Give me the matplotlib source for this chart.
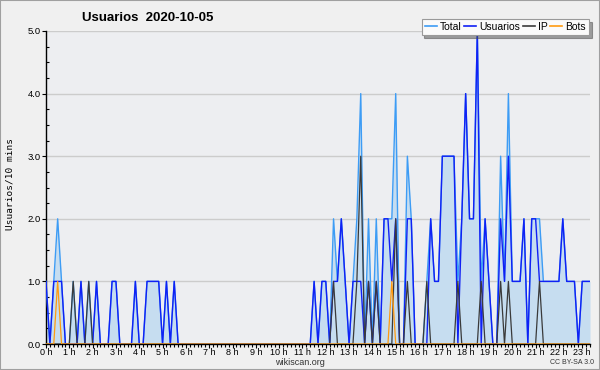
import numpy as np
import matplotlib
matplotlib.use("Agg")
import matplotlib.pyplot as plt
from matplotlib.lines import Line2D
from matplotlib.patches import Rectangle

# ---- data (one value per 10 minutes, from 0:00) ----
total = [1,0,1,2,1,0,0,1,0,1,
         0,1,0,1,0,0,0,1,1,0,
         0,0,0,1,0,0,1,1,1,1,
         0,1,0,1,0,0,0,0,0,0,
         0,0,0,0,0,0,0,0,0,0,
         0,0,0,0,0,0,0,0,0,0,
         0,0,0,0,0,0,0,0,0,1,
         0,1,1,0,2,1,2,1,0,1,
         2,4,0,2,0,2,0,2,2,2,
         4,0,0,3,2,0,0,0,1,2,
         1,1,3,3,3,3,1,2,4,2,
         2,5,1,2,1,0,0,3,1,4,
         1,1,1,2,0,2,2,2,1,1,
         1,1,1,2,1,1,1,0,1,1,
         1]
usuarios = [1,0,1,1,1,0,0,0,0,1,
            0,0,0,1,0,0,0,1,1,0,
            0,0,0,1,0,0,1,1,1,1,
            0,1,0,1,0,0,0,0,0,0,
            0,0,0,0,0,0,0,0,0,0,
            0,0,0,0,0,0,0,0,0,0,
            0,0,0,0,0,0,0,0,0,1,
            0,1,1,0,1,1,2,1,0,1,
            1,1,0,1,0,1,0,2,2,1,
            2,0,0,2,2,0,0,0,0,2,
            1,1,3,3,3,3,0,2,4,2,
            2,5,0,2,1,0,0,2,1,3,
            1,1,1,2,0,2,2,1,1,1,
            1,1,1,2,1,1,1,0,1,1,
            1]
ip = [0,0,0,0,0,0,0,1,0,0,
      0,1,0,0,0,0,0,0,0,0,
      0,0,0,0,0,0,0,0,0,0,
      0,0,0,0,0,0,0,0,0,0,
      0,0,0,0,0,0,0,0,0,0,
      0,0,0,0,0,0,0,0,0,0,
      0,0,0,0,0,0,0,0,0,0,
      0,0,0,0,1,0,0,0,0,0,
      1,3,0,1,0,1,0,0,0,0,
      2,0,0,1,0,0,0,0,1,0,
      0,0,0,0,0,0,1,0,0,0,
      0,0,1,0,0,0,0,1,0,1,
      0,0,0,0,0,0,0,1,0,0,
      0,0,0,0,0,0,0,0,0,0,
      0]
bots = [0,0,0,1,0,0,0,0,0,0,
        0,0,0,0,0,0,0,0,0,0,
        0,0,0,0,0,0,0,0,0,0,
        0,0,0,0,0,0,0,0,0,0,
        0,0,0,0,0,0,0,0,0,0,
        0,0,0,0,0,0,0,0,0,0,
        0,0,0,0,0,0,0,0,0,0,
        0,0,0,0,0,0,0,0,0,0,
        0,0,0,0,0,0,0,0,0,1,
        0,0,0,0,0,0,0,0,0,0,
        0,0,0,0,0,0,0,0,0,0,
        0,0,0,0,0,0,0,0,0,0,
        0,0,0,0,0,0,0,0,0,0,
        0,0,0,0,0,0,0,0,0,0,
        0]
hour_labels = [f"{h} h" for h in range(24)]
y_labels = ["0.0", "1.0", "2.0", "3.0", "4.0", "5.0"]
series_names = ["Total", "Usuarios", "IP", "Bots"]

t = np.arange(len(total)) / 6.0

c_total = "#3d9cf5"
c_fill = "#c6ddf0"
c_user = "#1020f5"
c_ip = "#3a3a3a"
c_bots = "#ff9a10"

plt.rcParams["font.family"] = ["Liberation Sans", "DejaVu Sans"]
fig = plt.figure(figsize=(6.0, 3.7), dpi=100, facecolor="#f0f0f0")
ax = fig.add_axes([46/600, 1-344/370, 544/600, 313/370])
ax.set_facecolor("#edeef1")

ax.fill_between(t, 0, total, color=c_fill, linewidth=0, zorder=1)
ax.plot(t, total, color=c_total, lw=1.0, zorder=3)
ax.plot(t, usuarios, color=c_user, lw=1.0, zorder=4)
ax.plot(t, ip, color=c_ip, lw=0.9, zorder=5)
ax.plot(t, bots, color=c_bots, lw=0.9, zorder=6)

ax.set_xlim(0, t[-1])
ax.set_ylim(0, 5)

for v in range(1, 6):
    ax.axhline(v, color="#cccccc", lw=1.0, zorder=0.5)

for s in ["top", "right"]:
    ax.spines[s].set_visible(False)
ax.spines["left"].set_color("black")
ax.spines["bottom"].set_color("black")
ax.spines["left"].set_linewidth(1.0)
ax.spines["bottom"].set_linewidth(1.0)

ax.set_xticks(np.arange(24))
ax.set_xticklabels(hour_labels, fontsize=6.5)
ax.set_xticks(np.arange(0, t[-1] + 0.01, 1/6), minor=True)
ax.tick_params(axis="x", which="major", direction="out", length=2.6, width=0.8, pad=0.5)
ax.tick_params(axis="x", which="minor", direction="out", length=2.2, width=0.8)

ax.set_yticks(np.arange(6))
ax.set_yticklabels(y_labels, fontsize=6.8)
ax.set_yticks(np.arange(0, 5.01, 0.25), minor=True)
ax.tick_params(axis="y", which="major", direction="out", length=3, width=0.8, pad=1)
ax.tick_params(axis="y", which="minor", direction="in", length=2.5, width=0.8)

fig.text(10/600, 1-184/370, "Usuarios/10 mins", rotation=90, ha="center", va="center",
         fontsize=6.8, family="DejaVu Sans Mono")
fig.text(82/600, 1-18/370, "Usuarios  2020-10-05", ha="left", va="center",
         fontsize=9.5, fontweight="bold")
fig.text(300/600, 1-362.5/370, "wikiscan.org", ha="center", va="center", fontsize=6.5, color="#333333")
fig.text(594/600, 1-363/370, "CC BY-SA 3.0", ha="right", va="center", fontsize=5, color="#333333")

handles = [Line2D([], [], color=c, lw=1.2) for c in (c_total, c_user, c_ip, c_bots)]
leg = fig.legend(handles, series_names, loc="upper right", bbox_to_anchor=(589/600, 1-19/370),
                 ncol=4, fontsize=7.5, handlelength=1.15, handletextpad=0.3, columnspacing=0.25,
                 borderpad=0.3, frameon=True, fancybox=False, shadow=True, framealpha=1,
                 borderaxespad=0)
leg.get_frame().set_edgecolor("#9a9a9a")
leg.get_frame().set_facecolor("#fafafa")
leg.get_frame().set_linewidth(0.8)

fig.patches.append(Rectangle((0, 0), 1, 1, transform=fig.transFigure, fill=False,
                             edgecolor="#a0a0a0", lw=1.5))

fig.savefig("out.png", dpi=100, facecolor=fig.get_facecolor())
